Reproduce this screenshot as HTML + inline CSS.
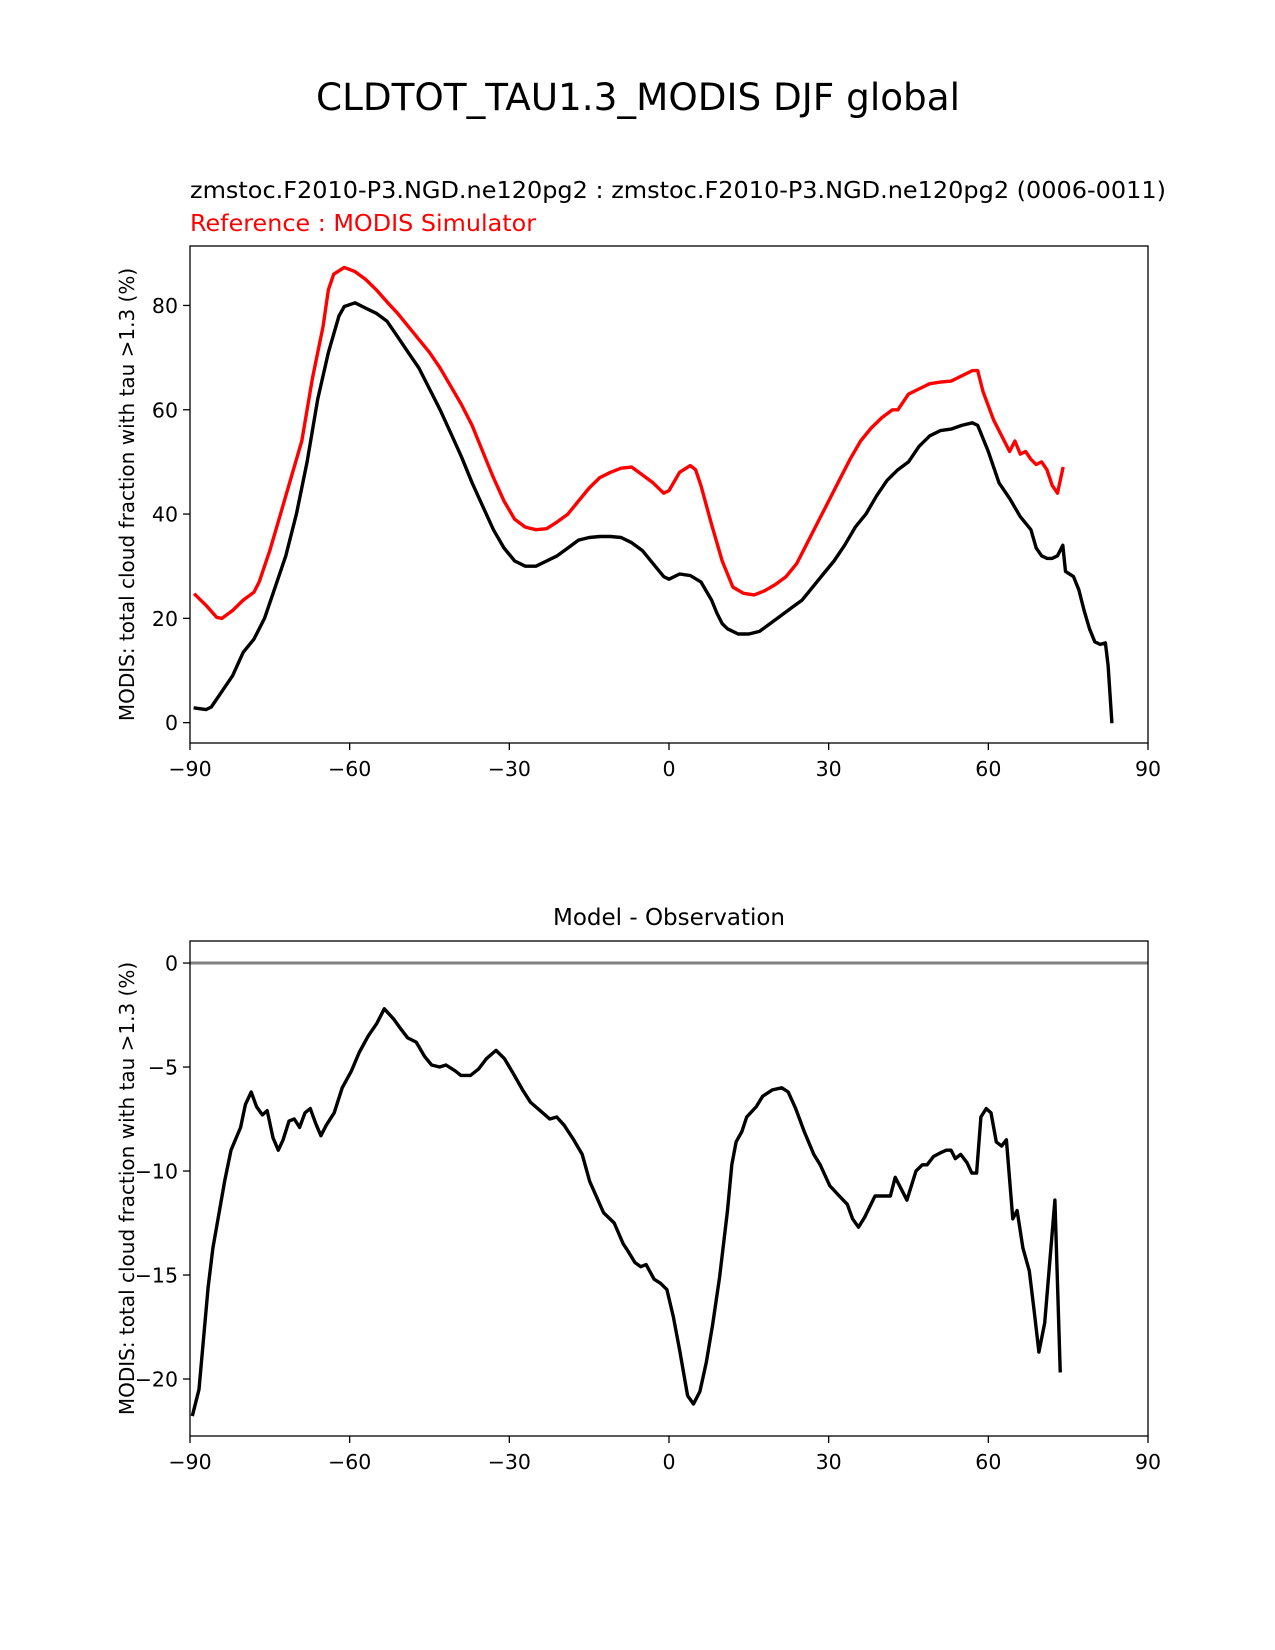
<!DOCTYPE html>
<html><head><meta charset="utf-8"><style>
html,body{margin:0;padding:0;background:#fff;}
svg{display:block;font-family:"DejaVu Sans","Liberation Sans",sans-serif;}
</style></head><body>
<svg id="fig" width="1275" height="1650" viewBox="0 0 1275 1650" xmlns="http://www.w3.org/2000/svg">
<rect width="1275" height="1650" fill="#fff"/>
<text x="638" y="110" font-size="37" text-anchor="middle" textLength="644" lengthAdjust="spacingAndGlyphs">CLDTOT_TAU1.3_MODIS DJF global</text>
<text x="190" y="198" font-size="23" textLength="976" lengthAdjust="spacingAndGlyphs">zmstoc.F2010-P3.NGD.ne120pg2 : zmstoc.F2010-P3.NGD.ne120pg2 (0006-0011)</text>
<text x="190" y="231" font-size="23" fill="#ff0000" textLength="346" lengthAdjust="spacingAndGlyphs">Reference : MODIS Simulator</text>
<text x="669" y="925" font-size="23" text-anchor="middle">Model - Observation</text>
<g id="top"></g>
<g id="bot"></g>
</svg>
<script>
const xTicks = [-90,-60,-30,0,30,60,90];
const topYTicks = [0,20,40,60,80];
const botYTicks = [0,-5,-10,-15,-20];
const yLabel = "MODIS: total cloud fraction with tau >1.3 (%)";

const modelLat = [-89,-87,-86,-84,-82,-80,-78,-76,-74,-72,-70,-68,-66,-64,-62,-61,-59,-57,-55,-53,-51,-49,-47,-45,-43,-41,-39,-37,-35,-33,-31,-29,-27,-25,-23,-21,-19,-17,-15,-13,-11,-9,-7,-5,-3,-1,0,2,4,6,8,9,10,11,13,15,17,19,21,23,25,27,29,31,33,35,37,39,41,43,45,47,49,51,53,55,57,58,60,62,64,66,68,69,70,71,72,73,74,74.5,76,77,78,79,80,81,82,82.5,83.2];
const modelVal = [2.8,2.5,3,6,9,13.5,16,20,26,32,40,50,62,71,78,79.8,80.5,79.5,78.5,77,74,71,68,64,60,55.5,51,46,41.5,37,33.5,31,30,30,31,32,33.5,35,35.5,35.7,35.7,35.5,34.5,33,30.5,28,27.5,28.5,28.2,27,23.5,21,19,18,17,17,17.5,19,20.5,22,23.5,26,28.5,31,34,37.5,40,43.5,46.5,48.5,50,53,55,56,56.3,57,57.5,57,52,46,43,39.5,37,33.5,32,31.5,31.5,32,34,29,28,25.5,21.5,18,15.5,15,15.3,11,0.2];

const refLat = [-89,-87,-85,-84,-82,-80,-78,-77,-75,-73,-71,-69,-67,-65,-64,-63,-61,-59,-57,-55,-53,-51,-49,-47,-45,-43,-41,-39,-37,-35,-33,-31,-29,-27,-25,-23,-21,-19,-17,-15,-13,-11,-9,-7,-5,-3,-1,0,2,4,5,6,8,10,12,14,16,18,20,22,24,26,28,30,32,34,36,38,40,42,43,45,47,49,51,53,55,57,58,59,61,63,64,65,66,67,68,69,70,71,72,73,74];
const refVal = [24.5,22.5,20.2,20,21.5,23.5,25,27,33,40,47,54,66,76,83,86,87.3,86.5,85,83,80.7,78.5,76,73.5,71,68,64.5,61,57,52,47,42.5,39,37.5,37,37.2,38.5,40,42.5,45,47,48,48.8,49,47.5,46,44,44.5,48,49.3,48.5,45.5,38,31,26,24.8,24.5,25.3,26.5,28,30.5,34.5,38.5,42.5,46.5,50.5,54,56.5,58.5,60,60,63,64,65,65.3,65.5,66.5,67.5,67.5,63.5,58,54,52,54,51.5,52,50.5,49.5,50,48.5,45.5,44,48.7];

const diffLat = [-89.5,-88.3,-86.6,-85.7,-83.5,-82.3,-80.5,-79.6,-78.5,-77.5,-76.4,-75.5,-74.4,-73.4,-72.5,-71.4,-70.4,-69.4,-68.4,-67.4,-66.4,-65.4,-64.4,-62.9,-61.4,-59.7,-58.2,-56.5,-54.9,-53.5,-51.7,-50.3,-49.1,-47.5,-45.9,-44.6,-43.1,-41.9,-40.1,-39.1,-37.3,-35.8,-34.3,-32.5,-30.9,-29.3,-27.5,-26,-24.2,-22.4,-21.1,-19.7,-17.9,-16.3,-14.9,-12.3,-10.3,-8.6,-7.6,-6.4,-5.3,-4.3,-2.8,-1.6,-0.4,0.8,2,3.5,4.6,5.8,7,8.2,9.5,11,11.8,12.6,13.7,14.6,16.4,17.6,19.4,21.2,22.4,23.8,25.4,27.2,28.4,30.2,32,33.5,34.5,35.6,36.8,38.7,39.8,41.6,42.5,43.7,44.7,46.4,47.6,48.5,49.7,51.2,52.1,53,53.8,54.8,56,56.9,57.8,58.6,59.6,60.5,61.5,62.5,63.4,64.6,65.4,66.5,67.7,68.6,69.5,70.6,72.5,73.5];
const diffVal = [-21.7,-20.5,-15.6,-13.7,-10.5,-9,-7.9,-6.8,-6.2,-6.9,-7.3,-7.1,-8.4,-9,-8.5,-7.6,-7.5,-7.9,-7.2,-7,-7.7,-8.3,-7.8,-7.2,-6,-5.2,-4.3,-3.5,-2.9,-2.2,-2.7,-3.2,-3.6,-3.8,-4.5,-4.9,-5,-4.9,-5.2,-5.4,-5.4,-5.1,-4.6,-4.2,-4.6,-5.3,-6.1,-6.7,-7.1,-7.5,-7.4,-7.8,-8.5,-9.2,-10.5,-12,-12.5,-13.5,-13.9,-14.4,-14.6,-14.5,-15.2,-15.4,-15.7,-17,-18.6,-20.8,-21.2,-20.6,-19.2,-17.4,-15.1,-11.9,-9.7,-8.6,-8.1,-7.4,-6.9,-6.4,-6.1,-6,-6.2,-7,-8.1,-9.2,-9.7,-10.7,-11.2,-11.6,-12.3,-12.7,-12.2,-11.2,-11.2,-11.2,-10.3,-10.9,-11.4,-10,-9.7,-9.7,-9.3,-9.1,-9,-9,-9.4,-9.2,-9.6,-10.1,-10.1,-7.4,-7,-7.2,-8.6,-8.8,-8.5,-12.3,-11.9,-13.7,-14.8,-16.7,-18.7,-17.3,-11.4,-19.6];

const NS = "http://www.w3.org/2000/svg";
function mk(tag, attrs, parent){ const e=document.createElementNS(NS,tag); for(const k in attrs) e.setAttribute(k,attrs[k]); parent.appendChild(e); return e; }

function drawAxes(g, box, ylim, yTicks, prefix){
  const X = v => box.l + (v+90)/180*(box.r-box.l);
  const Y = v => box.b - (v-ylim[0])/(ylim[1]-ylim[0])*(box.b-box.t);
  xTicks.forEach(t=>{
    const ln = mk('line',{x1:X(t),x2:X(t),y1:box.b,y2:box.b+7,stroke:'#000','stroke-width':1.3},g);
    
    
    const tx = mk('text',{x:X(t),y:box.b+33,'font-size':20.5,'text-anchor':'middle'},g);
    tx.textContent = t<0 ? '\u2212'+Math.abs(t) : String(t);
    
    
  });
  yTicks.forEach(t=>{
    const ln = mk('line',{x1:box.l-7,x2:box.l,y1:Y(t),y2:Y(t),stroke:'#000','stroke-width':1.3},g);
    
    
    const tx = mk('text',{x:box.l-12,y:Y(t)+7.5,'font-size':20.5,'text-anchor':'end'},g);
    tx.textContent = t<0 ? '\u2212'+Math.abs(t) : String(t);
    
    
  });
  const cy = (box.t+box.b)/2;
  const yl = mk('text',{x:0,y:0,'font-size':20,'text-anchor':'middle',transform:`translate(134,${cy}) rotate(-90)`},g);
  yl.textContent = yLabel;
  
  
  return {X,Y};
}
function line(g, sc, lats, vals, color, w, name){
  const d = lats.map((la,i)=>(i?'L':'M')+sc.X(la).toFixed(1)+' '+sc.Y(vals[i]).toFixed(1)).join(' ');
  const p = mk('path',{d, fill:'none', stroke:color,'stroke-width':w,'stroke-linejoin':'round','stroke-linecap':'square'},g);
  
  
}
function frame(g, box, name){
  const r = mk('rect',{x:box.l,y:box.t,width:box.r-box.l,height:box.b-box.t,fill:'none',stroke:'#000','stroke-width':1.3},g);
  
  
}

const topG = document.getElementById('top');
const topBox = {l:190,r:1148,t:246,b:743};
const s1 = drawAxes(topG, topBox, [-3.9,91.4], topYTicks, 'top');
line(topG, s1, refLat, refVal, '#ff0000', 3.4, 'reference-line');
line(topG, s1, modelLat, modelVal, '#000000', 3.4, 'model-line');
frame(topG, topBox, 'top-plot-frame');

const botG = document.getElementById('bot');
const botBox = {l:190,r:1148,t:941,b:1436};
const s2 = drawAxes(botG, botBox, [-22.74,1.06], botYTicks, 'diff');
const z = mk('line',{x1:botBox.l,x2:botBox.r,y1:s2.Y(0),y2:s2.Y(0),stroke:'#808080','stroke-width':3},botG);


line(botG, s2, diffLat, diffVal, '#000000', 3.4, 'difference-line');
frame(botG, botBox, 'diff-plot-frame');
</script>
</body></html>
